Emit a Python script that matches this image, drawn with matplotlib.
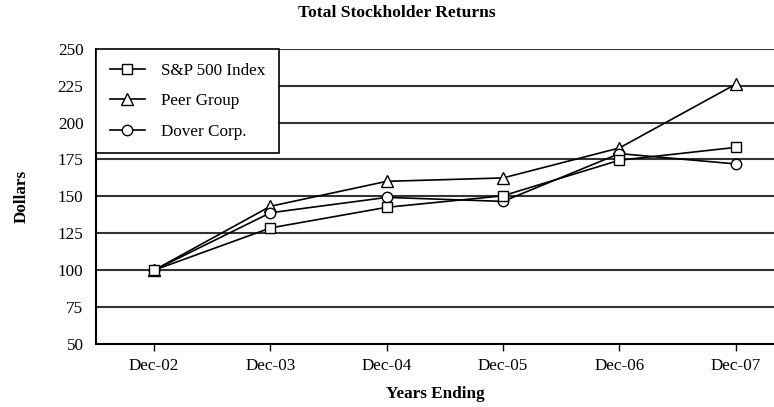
import matplotlib
matplotlib.use("Agg")
import matplotlib.pyplot as plt

categories = ["Dec-02", "Dec-03", "Dec-04", "Dec-05", "Dec-06", "Dec-07"]
sp500 = [100, 128.6, 142.6, 150.4, 174.5, 183.2]
peer = [100, 143.3, 160.2, 162.5, 182.8, 226.0]
dover = [100, 138.9, 149.3, 146.6, 179.0, 172.0]
yticks = [50, 75, 100, 125, 150, 175, 200, 225, 250]

plt.rcParams['font.family'] = ['Liberation Serif', 'DejaVu Serif']
FS = 12.3

fig = plt.figure(figsize=(7.74, 4.07), dpi=100)
ax = fig.add_axes([0.124, 0.155, 0.876, 0.725])

x = list(range(len(categories)))
ax.plot(x, sp500, color='black', lw=1.2, marker='s', ms=7, mfc='white', mec='black', mew=1.0, label='S&P 500 Index', zorder=5)
ax.plot(x, peer, color='black', lw=1.2, marker='^', ms=8.5, mfc='white', mec='black', mew=1.0, label='Peer Group', zorder=3)
ax.plot(x, dover, color='black', lw=1.2, marker='o', ms=7.5, mfc='white', mec='black', mew=1.0, label='Dover Corp.', zorder=4)

ax.set_ylim(50, 250)
ax.set_xlim(-0.5, 5.33)
ax.set_yticks(yticks)
ax.set_xticks(x)
ax.set_xticklabels(categories)
for yv in yticks[1:]:
    ax.axhline(yv, color='#333333', lw=1.5, zorder=1)

ax.spines['right'].set_visible(False)
ax.spines['top'].set_visible(False)
ax.spines['left'].set_linewidth(1.5)
ax.spines['bottom'].set_linewidth(1.5)
ax.tick_params(axis='y', length=0, pad=9, labelsize=FS)
ax.tick_params(axis='x', length=5, direction='out', width=1, pad=5, labelsize=FS)

ax.set_xlabel('Years Ending', fontweight='bold', fontsize=FS, labelpad=9)
ax.set_ylabel('Dollars', fontweight='bold', fontsize=FS, labelpad=20)
fig.text(397 / 774, 1 - 13 / 407, 'Total Stockholder Returns', fontweight='bold',
         fontsize=12.6, ha='center', va='center')

leg = ax.legend(loc='upper left', frameon=True, fancybox=False, edgecolor='black',
                fontsize=FS, borderaxespad=0.0, handlelength=2.05, labelspacing=0.85,
                borderpad=0.8, handletextpad=0.95)
leg.get_frame().set_linewidth(1.2)
leg.get_frame().set_alpha(1)
leg.set_zorder(10)

fig.savefig('out.png', dpi=100)
